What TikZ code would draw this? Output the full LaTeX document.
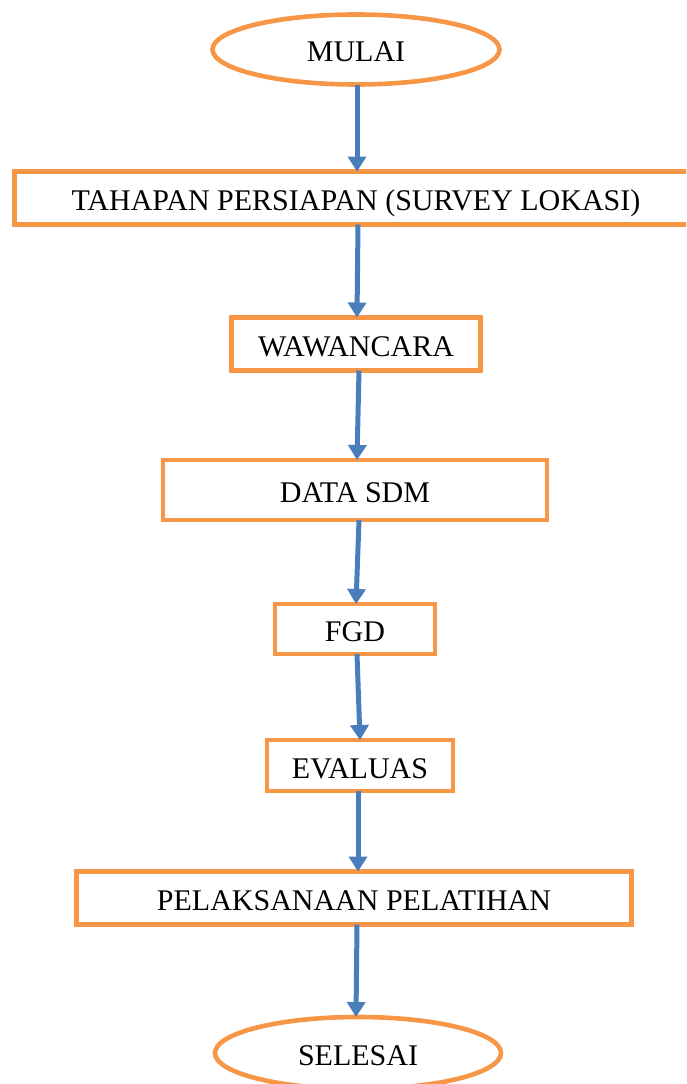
\documentclass[tikz,border=0pt]{standalone}
\usepackage{fontspec}
\setmainfont{Liberation Serif}
\usetikzlibrary{arrows.meta,shapes.geometric}
\definecolor{boxorange}{HTML}{F79646}
\definecolor{arrowblue}{HTML}{4A7EBB}
\tikzset{
  stepbox/.style={draw=boxorange, line width=4.6pt, rectangle, inner sep=0pt, outer sep=0pt,
    font=\fontsize{30}{34}\selectfont, text=black, text height=25pt, text depth=0pt},
  termbox/.style={draw=boxorange, line width=4.6pt, ellipse, inner sep=0pt, outer sep=0pt,
    font=\fontsize{30}{34}\selectfont, text=black, text height=24pt, text depth=0pt},
  flow/.style={draw=arrowblue, line width=5pt, -{Triangle[length=15pt,width=18pt]}}
}
\begin{document}
\begin{tikzpicture}[x=1pt,y=-1pt]
\useasboundingbox (0,0) rectangle (686,1084);
\clip (0,0) rectangle (686,1084);
\node[termbox, minimum width=287pt, minimum height=70pt] (start) at (356,49.5) {MULAI};
\node[stepbox, minimum width=683pt, minimum height=53pt] (b1) at (356,198) {TAHAPAN PERSIAPAN (SURVEY LOKASI)};
\node[stepbox, minimum width=249pt, minimum height=53pt] (b2) at (356,344) {WAWANCARA};
\node[stepbox, minimum width=384pt, minimum height=60pt] (b3) at (355,490) {DATA SDM};
\node[stepbox, minimum width=160pt, minimum height=50pt] (b4) at (355,629) {FGD};
\node[stepbox, minimum width=186pt, minimum height=51pt] (b5) at (360,765.5) {EVALUAS};
\node[stepbox, minimum width=555pt, minimum height=53pt] (b6) at (354,898) {PELAKSANAAN PELATIHAN};
\node[termbox, minimum width=286pt, minimum height=72pt] (end) at (358,1053) {SELESAI};
\draw[flow] ([xshift=1pt]start.south) -- ([xshift=1pt]b1.north);
\draw[flow] ([xshift=2pt]b1.south) -- ([xshift=1pt]b2.north);
\draw[flow] ([xshift=3pt]b2.south) -- ([xshift=2pt]b3.north);
\draw[flow] ([xshift=4pt]b3.south) -- ([xshift=1pt]b4.north);
\draw[flow] ([xshift=2pt]b4.south) -- ([xshift=0pt]b5.north);
\draw[flow] ([xshift=-2pt]b5.south) -- ([xshift=4pt]b6.north);
\draw[flow] ([xshift=3pt]b6.south) -- ([xshift=-2pt]end.north);
\end{tikzpicture}
\end{document}
